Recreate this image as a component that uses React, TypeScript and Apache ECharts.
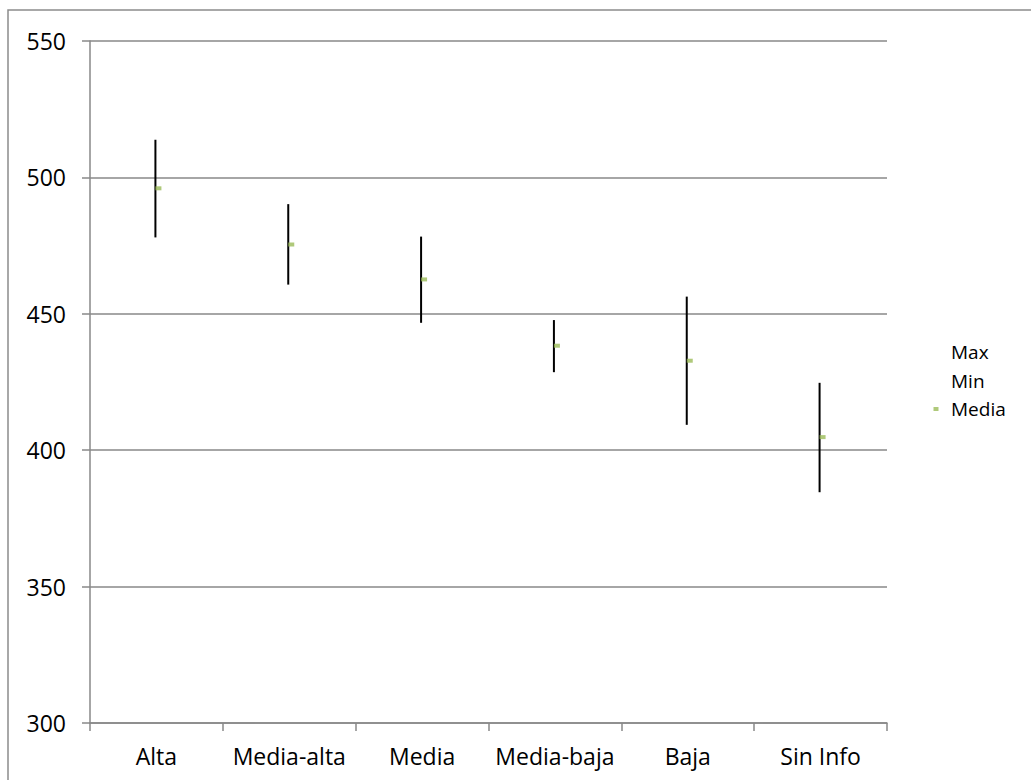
import React, { useEffect, useRef } from "react";
import * as echarts from "echarts";

const categories = ["Alta", "Media-alta", "Media", "Media-baja", "Baja", "Sin Info"];
const maxValues = [513.8, 490.2, 478.3, 447.7, 456.3, 424.7];
const minValues = [478.0, 460.7, 446.7, 428.6, 409.3, 384.6];
const meanValues = [496.0, 475.4, 462.6, 438.3, 432.8, 404.8];
const yTicks = { min: 300, max: 550, interval: 50 };

const FONT = "'Open Sans', 'Liberation Sans', sans-serif";
const FS = 23;
const LEG_FS = 19;

export default function App() {
  const ref = useRef<HTMLDivElement>(null);
  useEffect(() => {
    if (!ref.current) return;
    const chart = echarts.init(ref.current, undefined, { renderer: "svg" });
    const rangeData = categories.map((c, i) => [i, maxValues[i], minValues[i]]);
    chart.setOption({
      animation: false,
      backgroundColor: "#ffffff",
      textStyle: { fontFamily: FONT },
      graphic: [
        {
          type: "rect",
          shape: { x: 8, y: 10, width: 1040, height: 800 },
          style: { fill: "none", stroke: "#8c8c8c", lineWidth: 1.5 },
          silent: true,
        },
      ],
      grid: { left: 90, top: 41, right: 144, bottom: 57 },
      legend: {
        orient: "vertical",
        left: 921,
        top: 337.5,
        itemWidth: 20,
        itemHeight: 4,
        itemGap: 9.5,
        symbolKeepAspect: true,
        textStyle: { fontSize: LEG_FS, color: "#000", lineHeight: 19, fontFamily: FONT },
        data: [
          { name: "Max", icon: "none" },
          { name: "Min", icon: "none" },
          {
            name: "Media",
            icon: "path://M0,0 L5,0 L5,4 L0,4 Z",
            itemStyle: { color: "#9bbb59" },
          },
        ],
      },
      xAxis: {
        type: "category",
        data: categories,
        boundaryGap: true,
        axisLine: { lineStyle: { color: "#888", width: 1.5 } },
        axisTick: { show: true, interval: 0, length: 8, lineStyle: { color: "#888", width: 1.5 } },
        axisLabel: { interval: 0, fontSize: FS, color: "#000", margin: 21, fontFamily: FONT },
        splitLine: { show: false },
      },
      yAxis: {
        type: "value",
        min: yTicks.min,
        max: yTicks.max,
        interval: yTicks.interval,
        axisLine: { show: true, lineStyle: { color: "#888", width: 1.5 } },
        axisTick: { show: true, length: 8, lineStyle: { color: "#888", width: 1.5 } },
        axisLabel: { fontSize: FS, color: "#000", margin: 24, fontFamily: FONT },
        splitLine: { show: true, lineStyle: { color: "#888", width: 1.5 } },
      },
      series: [
        {
          name: "Max",
          type: "line",
          data: maxValues,
          symbol: "none",
          lineStyle: { opacity: 0 },
          silent: true,
        },
        {
          name: "Min",
          type: "line",
          data: minValues,
          symbol: "none",
          lineStyle: { opacity: 0 },
          silent: true,
        },
        {
          type: "custom",
          data: rangeData,
          renderItem: (params: any, api: any) => {
            const p1 = api.coord([api.value(0), api.value(1)]);
            const p2 = api.coord([api.value(0), api.value(2)]);
            return {
              type: "line",
              shape: { x1: p1[0] - 1, y1: p1[1], x2: p2[0] - 1, y2: p2[1] },
              style: { stroke: "#000", lineWidth: 2 },
            };
          },
          z: 3,
        },
        {
          name: "Media",
          type: "scatter",
          data: meanValues,
          symbol: "rect",
          symbolSize: [6, 4],
          symbolOffset: [2, 0],
          itemStyle: { color: "#9bbb59" },
          z: 5,
        },
      ],
    });
    return () => chart.dispose();
  }, []);
  return (
    <div
      ref={ref}
      style={{ position: "fixed", left: 0, top: 0, width: 1031, height: 780 }}
    />
  );
}
